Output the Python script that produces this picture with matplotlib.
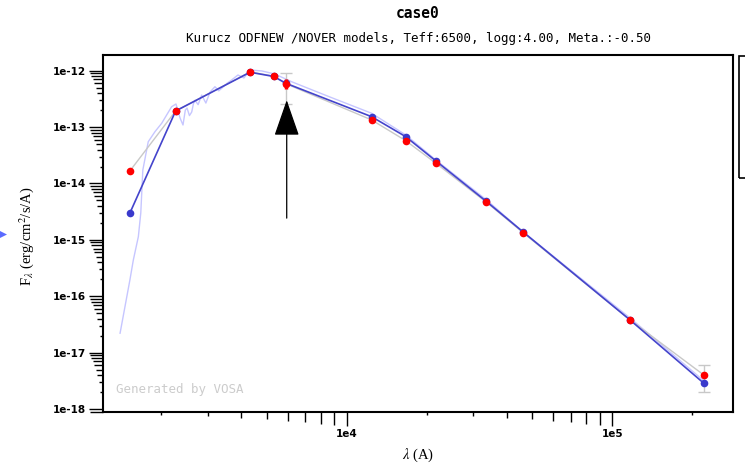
import matplotlib
matplotlib.use('Agg')
import matplotlib.pyplot as plt
from matplotlib.ticker import FixedLocator, NullFormatter, FixedFormatter
from matplotlib.patches import Polygon, Rectangle

# ---------------- data ----------------
# photometric points (wavelength in Angstrom)
phot_wl = [1528, 2271, 4330, 5320, 5900, 12420, 16700, 21700, 33600, 46200, 116700, 221000]
flux_obs = [1.67e-14, 1.93e-13, 9.5e-13, 8.0e-13, 5.9e-13, 1.34e-13, 5.74e-14,
            2.28e-14, 4.65e-15, 1.34e-15, 3.8e-17, 4.03e-18]
flux_mod = [3.0e-15, 1.93e-13, 9.4e-13, 7.9e-13, 6.0e-13, 1.53e-13, 6.76e-14,
            2.5e-14, 4.8e-15, 1.38e-15, 3.8e-17, 2.88e-18]
# error bars (only two points have visible bars)
err_wl = [5900, 221000]
err_flux = [5.9e-13, 4.03e-18]
err_big = [3.3e-13, 2.0e-18]
err_small = [1.2e-13, 0.5e-18]

# synthetic spectrum (Kurucz model)
spec_wl = [1403, 1528, 1574, 1644, 1679, 1709, 1791, 1899, 2013, 2101, 2194, 2278,
           2360, 2421, 2470, 2507, 2560, 2611, 2650, 2687, 2760, 2847, 2952, 3061,
           3194, 3300, 3394, 3550, 3690, 3899, 4105, 4326, 4800, 5370, 6207, 8652,
           12420, 16710, 21670, 33640, 46200, 116700, 221300]
spec_flux = [2.21e-17, 1.95e-16, 4.4e-16, 1.14e-15, 3.0e-15, 1.73e-14, 5.5e-14, 8.3e-14,
             1.17e-13, 1.64e-13, 2.3e-13, 2.57e-13, 1.45e-13, 1.09e-13, 2.0e-13,
             2.18e-13, 1.6e-13, 1.85e-13, 2.6e-13, 3.0e-13, 2.5e-13, 3.7e-13, 2.67e-13,
             4.19e-13, 5.2e-13, 4.4e-13, 4.93e-13, 6.0e-13, 6.84e-13, 8.4e-13, 7.43e-13,
             1.03e-12, 9.9e-13, 8.73e-13, 6.38e-13, 3.42e-13, 1.76e-13, 7.24e-14,
             2.61e-14, 5.1e-15, 1.38e-15, 4.12e-17, 3.16e-18]

# arrow marking the flagged point
arrow_wl = 5950
arrow_tip = 3.0e-13
arrow_base = 2.43e-15

xmajor = [1e4, 1e5]
xmajor_labels = ['1e4', '1e5']
ymajor = [1e-18, 1e-17, 1e-16, 1e-15, 1e-14, 1e-13, 1e-12]
ymajor_labels = ['1e-18', '1e-17', '1e-16', '1e-15', '1e-14', '1e-13', '1e-12']

title = 'case0'
subtitle = 'Kurucz ODFNEW /NOVER models, Teff:6500, logg:4.00, Meta.:-0.50'
watermark = 'Generated by VOSA'

# ---------------- figure ----------------
plt.rcParams['mathtext.fontset'] = 'stix'
W, H = 745, 465
fig = plt.figure(figsize=(W / 100, H / 100), dpi=100)
ax = fig.add_axes([103 / W, 1 - 412 / H, (733 - 103) / W, (412 - 55) / H])
ax.set_xscale('log')
ax.set_yscale('log')
ax.set_xlim(1210, 2.85e5)
ax.set_ylim(8.85e-19, 1.9e-12)

# spectrum
ax.plot(spec_wl, spec_flux, color='#c6c6ff', lw=1.0, zorder=1)
# observed (grey) and model (blue) polylines
ax.plot(phot_wl, flux_obs, color='#c8c8c8', lw=1.0, zorder=2)
ax.plot(phot_wl, flux_mod, color='#4444cc', lw=1.2, zorder=3)
# error bars
ax.errorbar(err_wl, err_flux, yerr=err_big, fmt='none', ecolor='#c8c8c8',
            elinewidth=1.0, capsize=4, capthick=1.0, zorder=3)
ax.errorbar(err_wl, err_flux, yerr=err_small, fmt='none', ecolor='#ff0000',
            elinewidth=2.5, capsize=0, zorder=5)
# points
ax.plot(phot_wl, flux_mod, 'o', color='#3a3acc', ms=5.5, mew=0, zorder=4)
ax.plot(phot_wl, flux_obs, 'o', color='#ff0000', ms=5.5, mew=0, zorder=6)

# arrow
ax.annotate('', xy=(arrow_wl, arrow_tip), xytext=(arrow_wl, arrow_base),
            arrowprops=dict(arrowstyle='-|>,head_length=2.3,head_width=0.8',
                            color='black', lw=0.9, mutation_scale=10,
                            shrinkA=0, shrinkB=0), zorder=7)

# watermark
fig.text(116 / W, 1 - 389 / H, watermark, fontsize=9,
         family='DejaVu Sans Mono', color='#cccccc', va='center', ha='left')

# frame
for side in ['left', 'bottom', 'right', 'top']:
    ax.spines[side].set_linewidth(1.5)
    ax.spines[side].set_color('black')

# ticks
ax.xaxis.set_major_locator(FixedLocator(xmajor))
ax.xaxis.set_major_formatter(FixedFormatter(xmajor_labels))
xminor = [d * 10 ** e for e in (3, 4, 5) for d in range(2, 10) if 1210 < d * 10 ** e < 2.85e5]
ax.xaxis.set_minor_locator(FixedLocator(xminor))
ax.xaxis.set_minor_formatter(NullFormatter())
ax.yaxis.set_major_locator(FixedLocator(ymajor))
ax.yaxis.set_major_formatter(FixedFormatter(ymajor_labels))
yminor = [d * 10.0 ** e for e in range(-19, -11) for d in range(2, 10)
          if 8.85e-19 < d * 10.0 ** e < 1.9e-12]
ax.yaxis.set_minor_locator(FixedLocator(yminor))
ax.yaxis.set_minor_formatter(NullFormatter())

ax.tick_params(which='both', direction='out', top=False, right=False, width=1.0, color='black')
ax.tick_params(which='major', length=10, pad=1.5)
ax.tick_params(axis='x', which='major', labelsize=7.5, pad=2.5)
ax.tick_params(axis='y', which='major', labelsize=7.5, pad=2.5)
for lab in ax.get_xticklabels() + ax.get_yticklabels():
    lab.set_fontweight('bold')
    lab.set_family('DejaVu Sans')

px = 0.72
for t in ax.xaxis.get_major_ticks(len(xmajor)):
    t.tick1line.set_markersize(14 * px)
for t, v in zip(ax.xaxis.get_minor_ticks(len(xminor)), xminor):
    d = round(v / 10 ** int(f'{v:e}'.split('e')[1]))
    t.tick1line.set_markersize(1.45 * d * px)
for t in ax.yaxis.get_major_ticks(len(ymajor)):
    t.tick1line.set_markersize(14 * px)
for t, v in zip(ax.yaxis.get_minor_ticks(len(yminor)), yminor):
    d = round(v / 10.0 ** int(f'{v:e}'.split('e')[1]))
    t.tick1line.set_markersize(1.45 * d * px)

# axis labels
fig.text(27 / W, 1 - 236 / H, r'F$_\lambda$ (erg/cm$^2$/s/A)', rotation=90,
         ha='center', va='center', fontsize=10.5, family='Liberation Serif')
fig.text(418 / W, 1 - 455 / H, r'$\lambda$ (A)', ha='center', va='center',
         fontsize=10.5, family='Liberation Serif')

# titles
fig.text(418 / W, 1 - 13 / H, title, ha='center', va='center', fontsize=10.5,
         fontweight='bold', family='DejaVu Sans Mono')
fig.text(418 / W, 1 - 38 / H, subtitle, ha='center', va='center', fontsize=9,
         family='DejaVu Sans Mono')

# decorations at figure edges (partial legend box, small marker)
fig.patches.append(Rectangle((739 / W, 1 - 178 / H), 10 / W, (178 - 56) / H,
                             transform=fig.transFigure, fill=False,
                             edgecolor='black', lw=1.2))
fig.patches.append(Polygon([(0, 1 - 231 / H), (7 / W, 1 - 234.5 / H), (0, 1 - 238 / H)],
                           closed=True, transform=fig.transFigure,
                           facecolor='#5b6bff', edgecolor='none'))

fig.savefig('out.png', dpi=100)
